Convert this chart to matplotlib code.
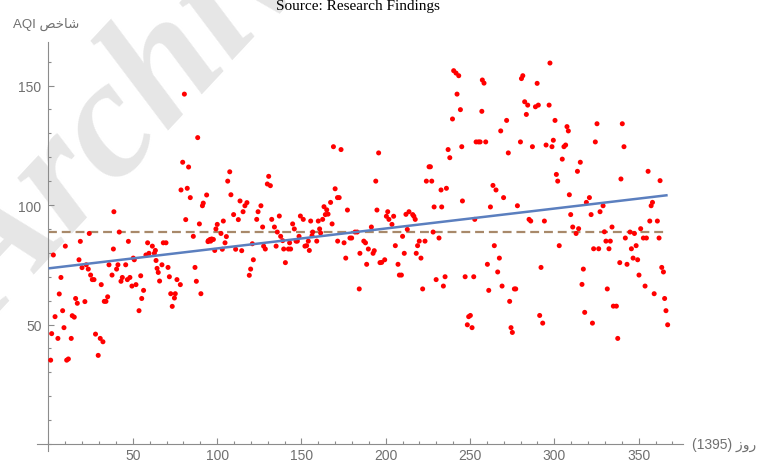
import numpy as np
import matplotlib
matplotlib.use("Agg")
import matplotlib.pyplot as plt
from matplotlib.ticker import FixedLocator, MultipleLocator

# daily AQI readings, year 1395
days = [
    1.3, 1.9, 2.9, 3.9, 5.6, 6.4, 7.4, 8.4, 9.2, 10.0, 10.8, 11.8, 13.5, 14.1, 15.3,
    16.1, 17.1, 18.1, 18.9, 19.9, 21.6, 22.4, 23.6, 24.2, 25.0, 26.0, 27.0, 27.9, 29.5,
    30.7, 31.3, 32.3, 33.1, 34.1, 35.1, 35.9, 37.7, 38.5, 38.8, 40.4, 41.2, 42.0, 43.0,
    43.8, 45.8, 46.8, 47.4, 48.3, 49.5, 50.3, 50.9, 51.9, 53.7, 54.7, 55.3, 56.4, 57.8,
    58.8, 59.6, 61.6, 62.8, 63.4, 63.8, 64.4, 65.1, 65.9, 67.3, 68.1, 69.7, 70.9, 71.7,
    72.5, 73.4, 74.7, 75.2, 76.2, 78.2, 78.6, 79.6, 80.6, 81.4, 82.3, 83.1, 84.1, 85.9,
    86.9, 87.7, 88.5, 89.5, 90.4, 91.3, 91.8, 93.8, 94.6, 94.8, 95.8, 96.2, 96.8, 97.8,
    98.6, 99.3, 100.1, 102.3, 103.1, 103.7, 104.7, 105.5, 106.3, 107.5, 108.2, 109.8,
    111.0, 112.6, 113.6, 114.6, 115.4, 116.5, 117.7, 119.1, 119.9, 120.9, 121.5, 123.5,
    124.3, 126.0, 127.0, 127.6, 128.6, 129.8, 130.6, 131.6, 132.4, 134.0, 135.0, 135.7,
    136.9, 137.7, 138.9, 139.5, 140.5, 142.3, 143.0, 143.6, 144.8, 145.8, 146.8, 147.6,
    148.6, 149.4, 151.1, 152.1, 153.1, 154.1, 154.7, 155.5, 156.3, 156.7, 159.1, 160.0,
    160.8, 161.4, 162.6, 163.4, 164.2, 165.0, 165.8, 167.3, 168.2, 169.0, 170.0, 171.4,
    171.5, 172.4, 173.5, 175.3, 176.3, 177.3, 178.8, 179.8, 181.8, 183.1, 184.3, 184.7,
    187.0, 188.0, 188.7, 189.7, 191.5, 192.5, 193.2, 194.1, 194.8, 195.8, 196.6, 197.6,
    199.4, 200.4, 201.2, 201.9, 203.7, 204.7, 205.7, 207.3, 208.1, 209.3, 210.0, 211.0,
    212.0, 212.8, 213.8, 216.0, 216.7, 217.5, 218.1, 218.9, 219.9, 220.9, 221.9, 223.3,
    224.1, 225.7, 226.5, 227.3, 228.1, 228.7, 229.9, 231.6, 232.8, 233.2, 234.2, 235.2,
    236.0, 237.0, 238.0, 239.6, 240.3, 241.7, 242.3, 243.3, 244.3, 245.1, 245.5, 247.1,
    248.4, 249.2, 250.2, 251.2, 252.2, 252.8, 253.6, 255.0, 256.0, 257.0, 257.3, 258.3,
    259.3, 260.3, 261.1, 262.1, 263.6, 264.4, 265.4, 266.4, 267.4, 268.2, 269.0, 269.9,
    271.7, 272.7, 273.5, 274.3, 275.1, 276.3, 277.1, 278.1, 279.9, 280.5, 281.3, 282.4,
    283.4, 284.2, 285.0, 286.0, 287.0, 288.8, 289.8, 290.5, 291.3, 292.1, 293.1, 294.1,
    295.1, 296.9, 297.4, 298.6, 299.4, 300.4, 301.2, 302.0, 302.9, 304.7, 305.7, 306.7,
    307.5, 308.3, 308.9, 309.7, 310.9, 312.9, 313.7, 314.4, 315.4, 316.4, 317.2, 318.0,
    319.0, 320.8, 321.8, 322.6, 323.3, 324.3, 325.3, 326.3, 327.1, 328.9, 329.7, 330.6,
    331.4, 332.4, 333.2, 334.2, 335.0, 336.8, 337.6, 338.8, 339.5, 340.3, 341.3, 342.1,
    343.1, 344.9, 345.7, 346.7, 347.5, 348.5, 349.4, 350.2, 351.2, 352.8, 353.8, 354.6,
    355.6, 356.6, 357.4, 358.2, 359.2, 361.1, 362.1, 362.7, 363.7, 364.7, 365.4, 366.2,
    367.2,
]
aqi = [
    35.1, 46.2, 79.1, 53.3, 44.2, 62.8, 69.7, 55.8, 48.7, 82.8, 35.1, 35.6, 44.2, 53.7, 53.1,
    60.9, 58.9, 77.1, 84.8, 73.8, 59.6, 75.0, 73.2, 88.1, 70.7, 68.8, 68.8, 46.0, 37.1,
    44.2, 66.7, 42.8, 59.7, 59.7, 61.6, 75.0, 70.7, 81.6, 97.2, 73.2, 75.0, 88.7, 68.1,
    69.7, 75.0, 68.8, 84.8, 69.7, 66.1, 77.8, 77.1, 66.7, 55.8, 70.4, 60.9, 64.3, 79.1,
    84.2, 79.8, 82.8, 79.8, 81.0, 76.8, 73.5, 71.8, 68.2, 75.0, 84.2, 84.2, 73.9, 70.0,
    62.9, 57.6, 61.1, 62.9, 68.8, 66.7, 106.3, 117.9, 146.4, 93.9, 107.0, 115.9, 103.1, 86.9,
    73.9, 68.1, 128.2, 92.1, 62.9, 99.7, 100.8, 104.2, 84.7, 85.1, 85.6, 84.9, 85.8, 85.6,
    81.0, 90.0, 91.9, 88.1, 81.5, 93.3, 84.2, 86.8, 110.0, 113.9, 104.3, 96.0,
    81.5, 93.9, 101.7, 80.9, 97.2, 99.7, 101.0, 70.6, 73.2, 83.8, 77.1, 94.0,
    97.2, 99.7, 90.8, 82.8, 81.6, 108.8, 112.0, 108.1, 94.0, 90.8, 82.8, 88.7,
    95.4, 86.9, 85.1, 81.6, 75.9, 81.6, 84.2, 81.6, 92.1, 90.0, 84.9, 84.9,
    86.9, 95.4, 94.0, 82.8, 83.0, 84.9, 81.0, 93.3, 87.2, 88.7, 84.9, 93.3,
    90.0, 88.3, 94.0, 99.3, 96.0, 98.0, 96.2, 101.1, 92.1, 124.4, 106.8, 103.1,
    84.9, 103.1, 123.2, 84.2, 77.8, 97.9, 86.2, 86.2, 88.7, 88.7, 64.9, 79.8,
    84.9, 84.2, 75.2, 81.6, 90.8, 79.8, 80.9, 110.0, 97.9, 121.8, 75.9, 76.0,
    77.1, 95.3, 97.2, 94.0, 91.9, 95.3, 83.0, 75.2, 70.7, 70.7, 86.9, 79.8,
    96.1, 89.8, 97.2, 96.0, 95.3, 94.0, 79.8, 83.0, 84.9, 77.8, 64.9, 84.9,
    110.0, 116.0, 116.0, 110.0, 88.7, 99.2, 68.8, 86.2, 106.3, 99.2, 66.1, 70.0,
    107.0, 123.2, 119.8, 136.0, 156.2, 155.2, 146.4, 154.1, 139.9, 124.4, 101.7, 70.0,
    49.9, 53.3, 53.8, 48.7, 70.0, 94.0, 126.4, 126.4, 126.4, 139.2, 152.3, 151.0,
    126.4, 75.2, 64.3, 99.2, 108.2, 83.0, 106.3, 72.0, 77.8, 131.0, 66.1, 103.1,
    135.4, 121.8, 59.7, 48.7, 46.7, 64.9, 64.9, 99.7, 126.4, 152.9, 154.1, 143.2,
    137.9, 141.8, 94.0, 93.3, 124.4, 141.1, 150.9, 141.8, 53.8, 73.9, 50.6, 93.3,
    125.1, 141.8, 159.4, 124.4, 127.1, 135.4, 112.8, 110.0, 83.0, 119.2, 124.4, 125.1,
    132.8, 131.0, 104.3, 96.0, 90.8, 88.1, 114.1, 90.1, 117.9, 66.8, 73.2, 55.1,
    101.1, 103.1, 96.0, 50.6, 81.7, 126.4, 134.0, 81.7, 97.2, 99.7, 88.8, 84.9,
    64.9, 81.7, 84.9, 90.8, 57.7, 57.7, 44.2, 75.9, 110.9, 134.0, 124.4, 86.2,
    75.2, 88.7, 81.7, 77.8, 88.1, 83.0, 77.1, 70.7, 90.1, 86.2, 66.1, 86.2,
    114.1, 93.3, 99.7, 101.1, 62.9, 93.3, 86.2, 110.2, 73.9, 72.0, 60.9, 55.8,
    49.9,
]

# fitted trend and yearly mean, as drawn in the original
trend_intercept = 73.5
trend_slope = 0.0834
mean_aqi = 88.7

x_major = [50, 100, 150, 200, 250, 300, 350]
y_major = [50, 100, 150]

title = "Source: Research Findings"
# Persian labels written in visual order with presentation forms
ylabel = "AQI \ufeba\ufea7\ufe8e\ufeb7"   # شاخص AQI
xlabel = "(1395) \ufeaf\ufeed\ufead"      # روز (1395)

W, H = 767, 464
fig = plt.figure(figsize=(W / 100, H / 100), dpi=100)
fig.patch.set_facecolor("white")

# faint watermark behind the plot
fig.text(-0.005, 0.30, "Archive of SID", rotation=47, rotation_mode="anchor",
         ha="left", va="baseline", fontsize=122, color="#E6E6E6",
         family="Liberation Serif", weight="bold", style="italic", zorder=-5)

ax = fig.add_axes([37 / W, 12 / H, 646 / W, 409 / H])
ax.patch.set_alpha(0)
ax.set_xlim(-6.8, 376.3)
ax.set_ylim(-2.9, 168.2)

for s in ("top", "right"):
    ax.spines[s].set_visible(False)
for s in ("left", "bottom"):
    ax.spines[s].set_position(("data", 0))
    ax.spines[s].set_color("#8C8C8C")
    ax.spines[s].set_linewidth(0.8)

ax.scatter(days, aqi, s=13, color="#FF0000", edgecolors="none", zorder=3)

x_fit = np.array([0, max(days)])
ax.plot(x_fit, trend_intercept + trend_slope * x_fit, color="#5B7FBF", lw=1.8,
        zorder=4, solid_capstyle="butt")
ax.plot(x_fit, [mean_aqi, mean_aqi], color="#A8896A", lw=1.6,
        linestyle=(0, (4, 2.2)), zorder=2)

ax.xaxis.set_major_locator(FixedLocator(x_major))
ax.xaxis.set_minor_locator(MultipleLocator(10))
ax.yaxis.set_major_locator(FixedLocator(y_major))
ax.yaxis.set_minor_locator(MultipleLocator(10))
ax.tick_params(which="both", direction="in", color="#8C8C8C", width=0.8,
               labelcolor="#707070", labelsize=10)
ax.tick_params(axis="x", which="major", length=4.3, pad=3)
ax.tick_params(axis="x", which="minor", length=2.2)
ax.tick_params(axis="y", which="major", length=4.6, pad=5)
ax.tick_params(axis="y", which="minor", length=2.4)
for lab in ax.get_xticklabels() + ax.get_yticklabels():
    lab.set_family("Liberation Sans")

fig.text(276 / W, 1 - 10 / H, title, ha="left", va="baseline",
         family="Liberation Serif", fontsize=11, color="black")
fig.text(13 / W, 1 - 28 / H, ylabel, ha="left", va="baseline",
         family=["Liberation Sans", "DejaVu Sans"], fontsize=9.5, color="#707070")
fig.text(692 / W, (H - 445) / H, xlabel, ha="left", va="center",
         family=["Liberation Sans", "DejaVu Sans"], fontsize=10, color="#707070")

fig.savefig("out.png", dpi=100, facecolor="white")
